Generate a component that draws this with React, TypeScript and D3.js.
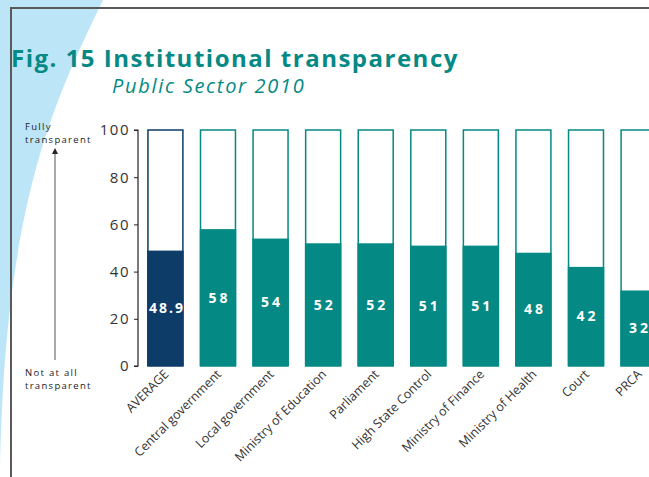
import React, { useEffect, useRef } from 'react';
import * as d3 from 'd3';

const categories = [
  'AVERAGE',
  'Central government',
  'Local government',
  'Ministry of Education',
  'Parliament',
  'High State Control',
  'Ministry of Finance',
  'Ministry of Health',
  'Court',
  'PRCA',
];
const values = [48.9, 58, 54, 52, 52, 51, 51, 48, 42, 32];
const valueLabels = ['48.9', '58', '54', '52', '52', '51', '51', '48', '42', '32'];
const yTicks = [0, 20, 40, 60, 80, 100];

const TEAL = '#048984';
const NAVY = '#0d3c69';
const FONT = '"Open Sans", Lato, sans-serif';

const App: React.FC = () => {
  const svgRef = useRef<SVGSVGElement>(null);
  const width = 649;
  const height = 477;

  useEffect(() => {
    if (!svgRef.current) return;
    const svg = d3.select(svgRef.current);
    svg.selectAll('*').remove();

    // background swoosh
    svg.append('path')
      .attr('d', 'M0,0 L103,0 C55,100 5,200 0,470 Z')
      .attr('fill', '#bde5f8');

    // frame
    svg.append('path')
      .attr('d', `M11,${height} L11,8 L${width},8`)
      .attr('fill', 'none')
      .attr('stroke', '#5a5a5a')
      .attr('stroke-width', 2);

    // titles
    svg.append('text')
      .attr('x', 11).attr('y', 67)
      .attr('font-family', FONT)
      .attr('font-weight', 'bold')
      .attr('font-size', 24)
      .attr('letter-spacing', 1.5)
      .attr('fill', TEAL)
      .text('Fig. 15 Institutional transparency');

    svg.append('text')
      .attr('x', 112).attr('y', 93)
      .attr('font-family', FONT)
      .attr('font-style', 'italic')
      .attr('font-size', 20)
      .attr('letter-spacing', 1.7)
      .attr('fill', TEAL)
      .text('Public Sector 2010');

    const x = d3.scaleBand<string>()
      .domain(categories)
      .range([139, 665])
      .paddingInner(0.335)
      .paddingOuter(0.17);

    const y = d3.scaleLinear().domain([0, 100]).range([366, 130]);

    // y axis
    const yAxis = svg.append('g')
      .attr('transform', 'translate(138,0)')
      .call(d3.axisLeft(y).tickValues(yTicks).tickSize(4).tickPadding(4));
    yAxis.select('.domain').attr('stroke', '#222').attr('stroke-width', 1.2).attr('d', `M-4,${y(100)}H0V${y(0)}H-4`);
    yAxis.selectAll('.tick line').attr('stroke', '#222');
    yAxis.selectAll('.tick text')
      .attr('font-family', FONT)
      .attr('font-size', 15)
      .attr('letter-spacing', 1.5)
      .attr('fill', '#333');

    // bars
    const bars = svg.append('g');
    categories.forEach((c, i) => {
      const color = i === 0 ? NAVY : TEAL;
      const bx = x(c)!;
      const bw = x.bandwidth();
      bars.append('rect')
        .attr('x', bx).attr('y', y(100))
        .attr('width', bw).attr('height', y(0) - y(100))
        .attr('fill', '#fff')
        .attr('stroke', color)
        .attr('stroke-width', 1.5);
      bars.append('rect')
        .attr('x', bx - 0.75).attr('y', y(values[i]))
        .attr('width', bw + 1.5).attr('height', y(0) - y(values[i]))
        .attr('fill', color);
      bars.append('text')
        .attr('x', bx + bw / 2 + 1.5)
        .attr('y', (y(values[i]) + y(0)) / 2 + 5)
        .attr('text-anchor', 'middle')
        .attr('font-family', FONT)
        .attr('font-weight', 'bold')
        .attr('font-size', 14)
        .attr('letter-spacing', i === 0 ? 2 : 3)
        .attr('fill', '#fff')
        .text(valueLabels[i]);
      svg.append('text')
        .attr('transform', `translate(${bx + bw / 2 + 4},${375}) rotate(-45)`)
        .attr('text-anchor', 'end')
        .attr('font-family', FONT)
        .attr('font-size', 12.5)
        .attr('fill', '#333')
        .text(c);
    });

    // left annotation
    const note = svg.append('g')
      .attr('font-family', FONT)
      .attr('font-size', 9.5)
      .attr('letter-spacing', 1.3)
      .attr('fill', '#222');
    note.append('text').attr('x', 25).attr('y', 130).text('Fully');
    note.append('text').attr('x', 25).attr('y', 143).text('transparent');
    note.append('text').attr('x', 25).attr('y', 376).text('Not at all');
    note.append('text').attr('x', 25).attr('y', 389).text('transparent');

    svg.append('defs').append('marker')
      .attr('id', 'arrow-head')
      .attr('viewBox', '0 0 10 10')
      .attr('refX', 5).attr('refY', 5)
      .attr('markerWidth', 6).attr('markerHeight', 6)
      .attr('orient', 'auto')
      .append('path')
      .attr('d', 'M0,0 L10,5 L0,10 Z')
      .attr('fill', '#222');

    svg.append('line')
      .attr('x1', 55).attr('y1', 360)
      .attr('x2', 55).attr('y2', 151)
      .attr('stroke', '#555')
      .attr('stroke-width', 1)
      .attr('marker-end', 'url(#arrow-head)');
  }, []);

  return (
    <svg
      ref={svgRef}
      width={width}
      height={height}
      style={{ position: 'absolute', left: 0, top: 0, background: '#fff' }}
    />
  );
};

export default App;
